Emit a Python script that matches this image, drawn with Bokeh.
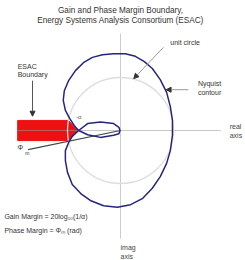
from bokeh.plotting import figure
from bokeh.models import Range1d, Arrow, NormalHead
from bokeh.core.properties import value
from bokeh.embed import file_html
from bokeh.resources import INLINE
import math

# ---- data (unit circle radius = 1) ----
title_lines = ["Gain and Phase Margin Boundary,", "Energy Systems Analysis Consortium (ESAC)"]

nyq_x = [-0.79, -0.62, -0.38, -0.13, -0.03, -0.01, -0.03, -0.13, -0.38, -0.62, -0.79,
         -0.87, -0.96, -1.04, -1.08, -1.06, -0.98, -0.85, -0.70, -0.53, -0.34, -0.13,
         0.09, 0.28, 0.45, 0.60, 0.75, 0.87, 0.94, 0.98, 0.98, 0.94, 0.87, 0.75, 0.60,
         0.42, 0.19, -0.06, -0.32, -0.57, -0.75, -0.91, -1.00, -1.04, -1.04, -0.98, -0.91, -0.79]
nyq_y = [0.00, 0.13, 0.16, 0.13, 0.06, 0.00, -0.06, -0.09, -0.13, -0.08, 0.00,
         0.09, 0.23, 0.38, 0.57, 0.75, 0.94, 1.13, 1.28, 1.38, 1.43, 1.45,
         1.45, 1.40, 1.30, 1.17, 0.96, 0.72, 0.45, 0.19, -0.09, -0.38, -0.62, -0.87, -1.09,
         -1.28, -1.40, -1.45, -1.42, -1.32, -1.19, -1.02, -0.79, -0.57, -0.38, -0.23, -0.11, 0.00]

esac_x = [-1.94, -0.98, -0.81, -0.98, -1.94]
esac_y = [0.19, 0.19, 0.00, -0.19, -0.19]

alpha_cross = -0.79
phi_m = 0.205          # rad
phi_line_len = 1.78

real_axis = (-1.94, 1.89)
imag_axis = (-2.04, 1.83)

FONT = value("Liberation Sans")

p = figure(width=245, height=260,
           x_range=Range1d(-2.264, 2.358), y_range=Range1d(-2.453, 2.453),
           x_axis_type=None, y_axis_type=None,
           output_backend="svg", toolbar_location=None,
           min_border=0, min_border_left=0, min_border_right=0,
           min_border_top=0, min_border_bottom=0)
p.grid.visible = False
p.outline_line_color = None
p.background_fill_color = "white"

# ESAC boundary region
p.patch(esac_x, esac_y, fill_color="#ee1111", line_color="#ee1111", line_width=1)

# axes
p.line(list(real_axis), [0, 0], line_color="#999999", line_alpha=0.55, line_width=1)
p.line([0, 0], list(imag_axis), line_color="#cccccc", line_width=1)

# unit circle
p.circle(x=[0], y=[0], radius=1, fill_color=None, line_color="#dddddd", line_width=1.3)

# phase margin line
ang = math.pi + phi_m
p.line([0, phi_line_len * math.cos(ang)], [0, phi_line_len * math.sin(ang)],
       line_color="#3d4b4b", line_width=1.2)

# Nyquist contour
p.line(nyq_x, nyq_y, line_color="#252580", line_width=1.5, line_join="round")

# arrows
head = lambda: NormalHead(size=5, fill_color="#333333", line_color="#333333")
p.add_layout(Arrow(end=head(), x_start=0.81, y_start=1.57, x_end=0.25, y_end=0.98,
                   line_color="#999999", line_width=1))
p.add_layout(Arrow(end=head(), x_start=1.28, y_start=0.77, x_end=0.86, y_end=0.77,
                   line_color="#999999", line_width=1))
p.add_layout(Arrow(end=head(), x_start=-1.66, y_start=0.94, x_end=-1.66, y_end=0.27,
                   line_color="#555555", line_width=1))

def txt(x, y, s, size="7px", align="left", color="#333333", baseline="middle"):
    p.text(x=[x], y=[y], text=[s], text_font=FONT, text_font_size=size,
           text_align=align, text_baseline=baseline, text_color=color)

# title
txt(0.0, 2.264, title_lines[0], size="8.2px", align="center")
txt(0.0, 2.075, title_lines[1], size="8.2px", align="center")

# labels
txt(0.94, 1.66, "unit circle")
txt(1.68, 0.88, "Nyquist", align="center")
txt(1.68, 0.71, "contour", align="center")
txt(-1.94, 1.21, "ESAC")
txt(-1.94, 1.06, "Boundary")
txt(2.06, 0.075, "real", color="#444444")
txt(2.06, -0.094, "axis", color="#444444")
txt(alpha_cross - 0.05, 0.25, "-α", size="6px", color="#555555")
txt(-1.89, -0.32, "Φ", size="7px", align="center")
txt(-1.76, -0.42, "m", size="5px", align="center")
txt(-2.19, -1.63, "Gain Margin = 20log₁₀(1/α)")
txt(-2.19, -1.89, "Phase Margin = Φₘ (rad)")
txt(0.0, -2.21, "imag", color="#444444")
txt(0.0, -2.38, "axis", color="#444444")

open("out.html", "w").write(file_html(p, INLINE))
